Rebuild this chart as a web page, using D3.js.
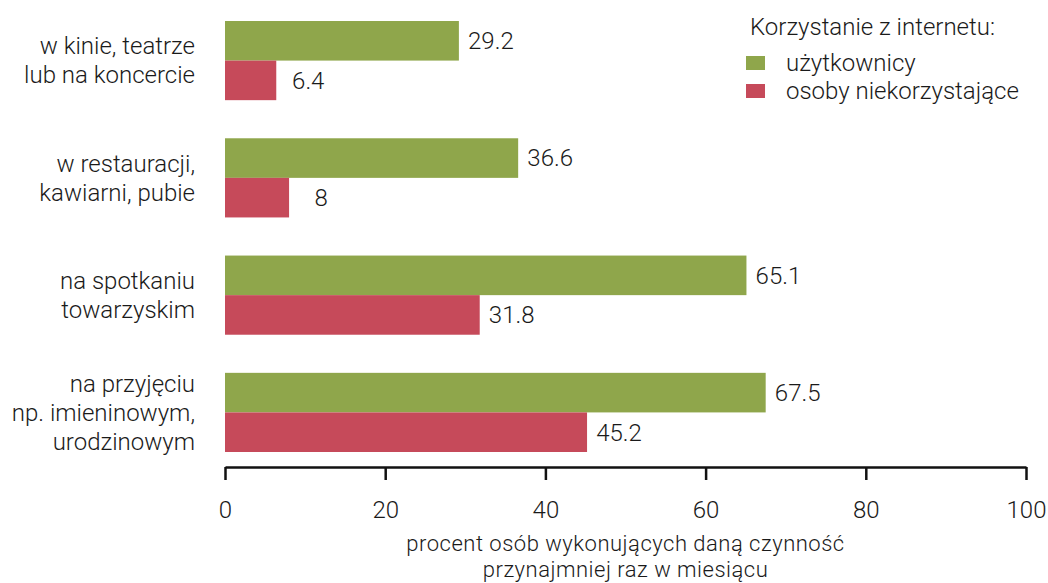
<!DOCTYPE html>
<html>
<head>
<meta charset="utf-8">
<script src="https://cdn.jsdelivr.net/npm/d3@7/dist/d3.min.js"></script>
<style>
  html, body { margin: 0; padding: 0; background: #fff; }
  svg { display: block; }
  text { font-family: Roboto, "DejaVu Sans", sans-serif; font-weight: 300; fill: #1a1a1a; }
</style>
</head>
<body>
<svg id="chart" width="1048" height="583"></svg>
<script>
// Activities (each label split into display lines)
const categories = [
  ["w kinie, teatrze", "lub na koncercie"],
  ["w restauracji,", "kawiarni, pubie"],
  ["na spotkaniu", "towarzyskim"],
  ["na przyjęciu", "np. imieninowym,", "urodzinowym"]
];
const seriesNames = ["użytkownicy", "osoby niekorzystające"];
const usersValues = [29.2, 36.6, 65.1, 67.5];
const nonUsersValues = [6.4, 8, 31.8, 45.2];
const xTicks = [0, 20, 40, 60, 80, 100];
const legendTitle = "Korzystanie z internetu:";
const axisTitle = ["procent osób wykonujących daną czynność", "przynajmniej raz w miesiącu"];
const colors = ["#8fa64b", "#c64a5a"];

const svg = d3.select("#chart");
const fontSize = 24;

const x = d3.scaleLinear().domain([0, 100]).range([225, 1026]);
const keys = categories.map((c, i) => i);
const y = d3.scaleBand().domain(keys).range([21, 452]).paddingInner(0.325).paddingOuter(0);
const ySub = d3.scaleBand().domain([0, 1]).range([0, y.bandwidth()]);

const rows = keys.map(i => ({ i, vals: [usersValues[i], nonUsersValues[i]] }));

const groups = svg.selectAll("g.group").data(rows).join("g")
  .attr("class", "group")
  .attr("transform", d => `translate(0,${y(d.i)})`);

groups.selectAll("rect").data(d => d.vals.map((v, s) => ({ v, s }))).join("rect")
  .attr("x", x(0))
  .attr("y", d => ySub(d.s))
  .attr("width", d => x(d.v) - x(0))
  .attr("height", ySub.bandwidth())
  .attr("fill", d => colors[d.s]);

groups.selectAll("text.val").data(d => d.vals.map((v, s) => ({ v, s }))).join("text")
  .attr("class", "val")
  .attr("x", d => x(d.v) + 32)
  .attr("y", d => ySub(d.s) + ySub.bandwidth() / 2)
  .attr("dy", "0.35em")
  .attr("text-anchor", "middle")
  .style("font-size", fontSize + "px")
  .text(d => String(d.v));

// Category labels, right aligned and centred on each group
const lineH = 29;
groups.each(function(d) {
  const lines = categories[d.i];
  const cy = y.bandwidth() / 2;
  const t = d3.select(this).append("text")
    .attr("text-anchor", "end")
    .style("font-size", fontSize + "px");
  lines.forEach((ln, k) => {
    t.append("tspan")
      .attr("x", 195)
      .attr("y", cy + (k - (lines.length - 1) / 2) * lineH)
      .attr("dy", "0.35em")
      .text(ln);
  });
});

// Bottom axis
const axis = svg.append("g")
  .attr("transform", "translate(0,467)")
  .call(d3.axisBottom(x).tickValues(xTicks).tickSize(13).tickPadding(21).tickSizeOuter(0));
axis.select(".domain").attr("stroke", "#111").attr("stroke-width", 2.5);
axis.selectAll(".tick line").attr("stroke", "#111").attr("stroke-width", 2.5);
axis.selectAll(".tick text")
  .style("font-size", fontSize + "px")
  .style("font-family", "Roboto, 'DejaVu Sans', sans-serif")
  .style("font-weight", 300)
  .attr("fill", "#1a1a1a");

// Axis title, two lines
svg.append("text")
  .attr("text-anchor", "middle")
  .style("font-size", "22px")
  .style("letter-spacing", "0.5px")
  .selectAll("tspan").data(axisTitle).join("tspan")
  .attr("x", (x(0) + x(100)) / 2)
  .attr("y", (d, k) => 544 + k * 26)
  .attr("dy", "0.33em")
  .text(d => d);

// Legend
const legend = svg.append("g");
legend.append("text")
  .attr("x", 750).attr("y", 27).attr("dy", "0.35em")
  .style("font-size", fontSize + "px")
  .text(legendTitle);
const li = legend.selectAll("g.item").data(seriesNames).join("g")
  .attr("class", "item")
  .attr("transform", (d, k) => `translate(0,${63 + k * 28})`);
li.append("rect")
  .attr("x", 746).attr("y", -7).attr("width", 19).attr("height", 14)
  .attr("fill", (d, k) => colors[k]);
li.append("text")
  .attr("x", 786).attr("dy", "0.35em")
  .style("font-size", fontSize + "px")
  .text(d => d);
</script>
</body>
</html>
